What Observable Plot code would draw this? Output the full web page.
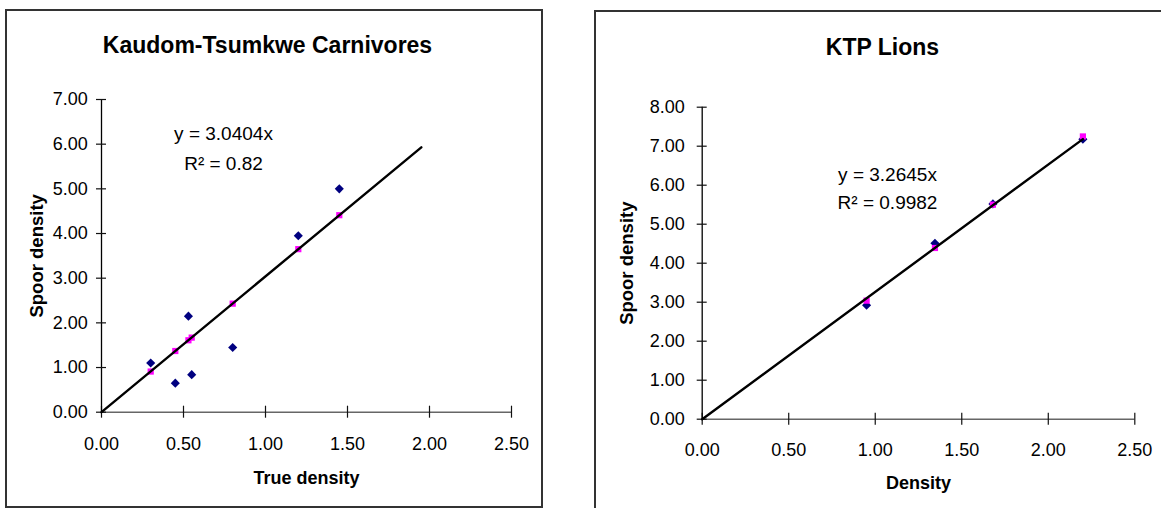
<!DOCTYPE html>
<html><head><meta charset="utf-8">
<script src="https://cdn.jsdelivr.net/npm/d3@7"></script>
<script src="https://cdn.jsdelivr.net/npm/@observablehq/plot@0.6"></script>
<style>
body{margin:0;background:#fff;}
#wrap{position:relative;width:1161px;height:508px;overflow:hidden;background:#fff;font-family:"Liberation Sans",Arial,sans-serif;}
.box{position:absolute;box-sizing:border-box;border:2px solid #333;}
.panel{position:absolute;top:0;}
</style></head><body>
<div id="wrap">
<div class="box" style="left:5px;top:9px;width:538px;height:499px"></div>
<div class="box" style="left:594px;top:10px;width:620px;height:620px"></div>
<div class="panel" id="left" style="left:0px"></div>
<div class="panel" id="right" style="left:580px"></div>
</div>
<script>
// Kaudom-Tsumkwe Carnivores
const ktTitle = "Kaudom-Tsumkwe Carnivores";
const ktTrueDensity = [0.30, 0.45, 0.53, 0.55, 0.80, 1.20, 1.45];
const ktSpoorDensity = [1.10, 0.65, 2.15, 0.84, 1.45, 3.95, 5.00];
const ktFitted = [0.91, 1.37, 1.61, 1.67, 2.43, 3.65, 4.41];
const ktSlope = 3.0404;
const ktTrendEnd = 1.95;
const ktEquation = ["y = 3.0404x", "R\u00B2 = 0.82"];
const ktXTicks = [0, 0.5, 1, 1.5, 2, 2.5];
const ktYTicks = [0, 1, 2, 3, 4, 5, 6, 7];

// KTP Lions
const ktpTitle = "KTP Lions";
const ktpDensity = [0.95, 1.345, 1.68, 2.20];
const ktpSpoorDensity = [2.92, 4.51, 5.52, 7.18];
const ktpFitted = [3.04, 4.39, 5.50, 7.25];
const ktpSlope = 3.2645;
const ktpTrendEnd = 2.20;
const ktpEquation = ["y = 3.2645x", "R\u00B2 = 0.9982"];
const ktpXTicks = [0, 0.5, 1, 1.5, 2, 2.5];
const ktpYTicks = [0, 1, 2, 3, 4, 5, 6, 7, 8];

const fmt = d3.format(".2f");
const FONT = "'Liberation Sans', Arial, sans-serif";

function panel(o) {
  const pts = o.xs.map((x, i) => ({x, a: o.actual[i], f: o.fitted[i]}));
  const trend = [{x: 0, y: 0}, {x: o.xEnd, y: o.slope * o.xEnd}];
  const xMax = o.xTicks[o.xTicks.length - 1];
  const yMax = o.yTicks[o.yTicks.length - 1];
  return Plot.plot({
    width: o.width, height: o.height,
    marginLeft: o.ml, marginRight: o.mr, marginTop: o.mt, marginBottom: o.mb,
    x: {domain: [0, xMax], axis: null},
    y: {domain: [0, yMax], axis: null},
    style: {background: "transparent", overflow: "visible", fontFamily: FONT, color: "#000"},
    marks: [
      Plot.ruleY([0], {stroke: "#666", strokeWidth: 1.6}),
      Plot.ruleX(o.xTicks, {x: d => d, y1: 0, y2: 0, insetTop: -6, insetBottom: -6, stroke: "#111", strokeWidth: 1.2}),
      Plot.ruleX([0], {stroke: "#000", strokeWidth: 1.3}),
      Plot.ruleY(o.yTicks, {y: d => d, x1: 0, x2: 0, insetLeft: -5, insetRight: -5, stroke: "#111", strokeWidth: 1.2}),
      Plot.text(o.xTicks, {x: d => d, y: 0, text: d => fmt(d), dy: o.xTickDy, fontSize: 18, fill: "#000", textAnchor: "middle", lineAnchor: "middle"}),
      Plot.text(o.yTicks, {x: 0, y: d => d, text: d => fmt(d), dx: o.yTickDx, fontSize: 18, fill: "#000", textAnchor: "end", lineAnchor: "middle"}),
      Plot.dot(pts, {x: "x", y: "a", symbol: "diamond2", r: 4.1, fill: "#000080"}),
      Plot.dot(pts, {x: "x", y: "f", symbol: "square", r: 3.5, fill: "#ff00ff"}),
      Plot.line(trend, {x: "x", y: "y", stroke: "#000", strokeWidth: 2.4}),
      Plot.text([o.title], {text: d => d, frameAnchor: "top", dx: o.titleDx, dy: o.titleDy, fontSize: 23, fontWeight: "bold", fill: "#000", textAnchor: "middle", lineAnchor: "middle"}),
      Plot.text([o.xLabel], {text: d => d, frameAnchor: "bottom", dy: o.xLabelDy, fontSize: 18, fontWeight: "bold", fill: "#000", textAnchor: "middle", lineAnchor: "middle"}),
      Plot.text([o.yLabel], {text: d => d, frameAnchor: "left", dx: o.yLabelDx, rotate: -90, fontSize: 18.5, fontWeight: "bold", fill: "#000", textAnchor: "middle", lineAnchor: "middle"}),
      Plot.text([o.eq[0]], {text: d => d, frameAnchor: "top-left", dx: o.eqDx, dy: o.eqDy1, fontSize: 19, fill: "#000", textAnchor: "middle", lineAnchor: "middle"}),
      Plot.text([o.eq[1]], {text: d => d, frameAnchor: "top-left", dx: o.eqDx, dy: o.eqDy2, fontSize: 19, fill: "#000", textAnchor: "middle", lineAnchor: "middle"})
    ]
  });
}

document.getElementById("left").append(panel({
  width: 545, height: 508, ml: 101, mr: 34, mt: 99, mb: 96.3,
  xs: ktTrueDensity, actual: ktSpoorDensity, fitted: ktFitted,
  slope: ktSlope, xEnd: ktTrendEnd, xTicks: ktXTicks, yTicks: ktYTicks,
  title: ktTitle, titleDx: -39, titleDy: -54,
  xLabel: "True density", xLabelDy: 66.3,
  yLabel: "Spoor density", yLabelDx: -64.3,
  eq: ktEquation, eqDx: 122, eqDy1: 34, eqDy2: 64,
  yTickDx: -13.7, xTickDy: 31.6
}));

document.getElementById("right").append(panel({
  width: 581, height: 508, ml: 121.7, mr: 26.7, mt: 106.7, mb: 89.3,
  xs: ktpDensity, actual: ktpSpoorDensity, fitted: ktpFitted,
  slope: ktpSlope, xEnd: ktpTrendEnd, xTicks: ktpXTicks, yTicks: ktpYTicks,
  title: ktpTitle, titleDx: -36, titleDy: -60,
  xLabel: "Density", xLabelDy: 64.3,
  yLabel: "Spoor density", yLabelDx: -75.4,
  eq: ktpEquation, eqDx: 185.3, eqDy1: 67.3, eqDy2: 96,
  yTickDx: -17.4, xTickDy: 30.6
}));
</script>
</body></html>
